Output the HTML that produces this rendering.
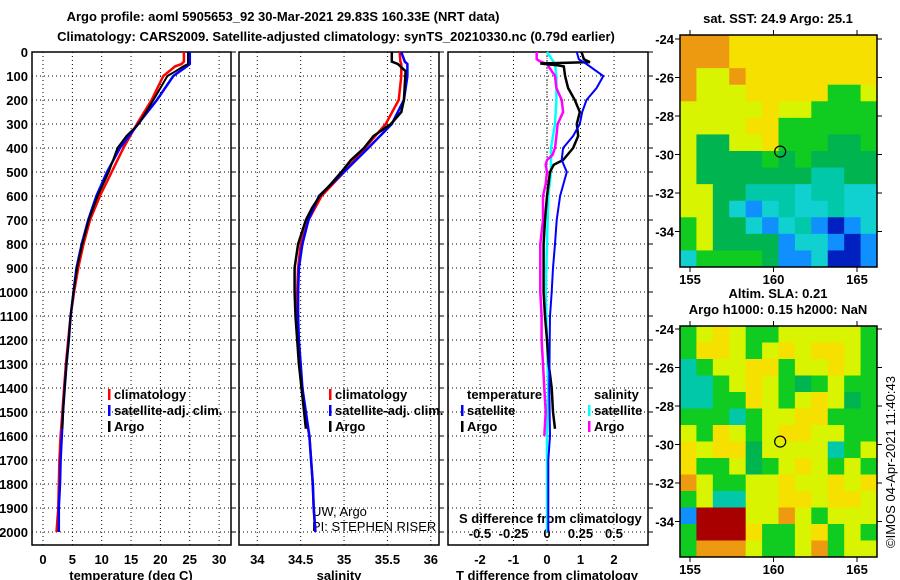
<!DOCTYPE html>
<html><head><meta charset="utf-8"><style>
html,body{margin:0;padding:0;background:#fff;width:900px;height:580px;overflow:hidden}
svg{display:block}
text{font-family:"Liberation Sans",sans-serif;font-weight:bold;font-size:13px;fill:#000}
.n{font-weight:normal}
</style></head><body>
<svg id="s" width="900" height="580" xmlns="http://www.w3.org/2000/svg"></svg>
<script>
// ---- data ----
const depthTicks=[0,100,200,300,400,500,600,700,800,900,1000,1100,1200,1300,1400,1500,1600,1700,1800,1900,2000];
const tempTicks=[0,5,10,15,20,25,30];
const salTicks=[34,34.5,35,35.5,36];
const salTickLabels=["34","34.5","35","35.5","36"];
const tDiffTicks=[-2,-1,0,1,2];
const sDiffTicks=[-0.5,-0.25,0,0.25,0.5];
const sDiffTickLabels=["-0.5","-0.25","0","0.25","0.5"];
const climDepths=[0,40,50,60,100,200,300,400,500,600,700,800,900,1000,1100,1200,1300,1400,1500,1600,1700,1800,1900,2000];
const tempClim=[24.0,24.0,23.6,22.5,20.5,18.5,16.0,13.7,11.7,9.7,8.0,6.9,6.0,5.3,4.7,4.3,3.9,3.6,3.3,3.0,2.8,2.7,2.6,2.3];
const tempSat=[25.0,25.0,25.0,24.5,22.2,19.4,16.2,13.1,10.9,9.1,7.7,6.6,5.7,5.2,4.7,4.4,4.0,3.7,3.4,3.2,3.0,2.9,2.7,2.7];
const argoTDepths=[0,40,50,60,80,100,200,300,350,400,500,600,700,800,900,1000,1100,1200,1300,1400,1500,1570];
const tempArgo=[24.7,24.7,24.7,23.9,22.6,21.2,18.8,16.3,14.2,12.7,11.2,9.3,7.8,6.7,5.8,5.2,4.7,4.4,4.0,3.7,3.4,3.3];
const salClim=[35.64,35.65,35.66,35.66,35.66,35.63,35.48,35.24,35.0,34.74,34.59,34.5,34.47,34.46,34.46,34.47,34.49,34.51,34.55,34.6,34.62,34.64,34.65,34.67];
const salSat=[35.66,35.7,35.73,35.73,35.73,35.69,35.55,35.28,35.0,34.71,34.59,34.52,34.48,34.47,34.47,34.48,34.5,34.52,34.56,34.6,34.62,34.64,34.65,34.67];
const argoSDepths=[0,40,50,80,200,250,300,350,400,450,500,550,600,650,700,800,900,1000,1100,1200,1300,1400,1500,1570];
const salArgo=[35.55,35.55,35.62,35.71,35.69,35.66,35.54,35.34,35.23,35.08,34.97,34.85,34.72,34.63,34.56,34.47,34.43,34.43,34.44,34.46,34.48,34.51,34.54,34.56];
const tArgoDiffDepths=[0,30,42,48,55,60,100,150,200,250,300,350,400,450,470,500,600,700,800,900,1000,1100,1200,1300,1400,1500,1570];
const tArgoDiff=[1.03,1.1,1.28,-0.2,0.3,0.5,0.54,0.63,0.83,0.98,0.89,0.93,0.78,0.48,0.2,0.09,0,-0.06,-0.1,-0.1,-0.1,-0.06,0.0,0.05,0.14,0.18,0.24];
const tSatDiffDepths=[0,30,50,100,150,200,250,300,350,400,450,500,600,700,800,900,1000,1100,1200,1400,1600,1700,2000];
const tSatDiff=[0.89,0.95,1.18,1.68,1.48,1.18,1.05,0.98,0.78,0.48,0.44,0.59,0.39,0.29,0.24,0.18,0.14,0.09,0.08,0.07,0.09,0.04,0.04];
const sArgoDiffDepths=[0,30,40,50,100,150,200,250,300,350,400,430,450,470,500,550,600,700,800,900,1000,1100,1200,1300,1400,1500,1600];
const sArgoDiff=[-0.077,-0.077,-0.05,0,0.06,0.07,0.11,0.12,0.08,0.07,0.06,0.04,0,-0.01,0,-0.01,-0.03,-0.03,-0.05,-0.05,-0.05,-0.04,-0.04,-0.03,-0.02,-0.01,-0.02];
const sSatDiffDepths=[0,50,100,200,300,400,500,600,800,1000,1200,1400,1600,2000];
const sSatDiff=[0,0.06,0.07,0.07,0.06,0.03,0.03,0.01,0.0,-0.01,0,0.01,0,0];
const latTicks=[-24,-26,-28,-30,-32,-34];
const lonTicks=[155,160,165];
const sstGrid=["OOOYYYYYYYYY","OOOYYYYYYYYY","OLLOYYYYYYYY","OLLLYYYYYGGL","LLLLLYLLGGGG","LLLLYYGGGGGG","LDDLLYGGGDDG","LDDDDGDGDDDD","LDDDDDDDTTDD","LLDDTTTCTTCC","LLDCBCTCCTCC","GLDDCBCTBNBC","GLDDDDBCCBNB","CGGGGDBBCNNB"];
const slaGrid=["GLYLGGLLLLLG","GYYLGLYLYYLG","TGLLYYGLLYLG","TTGLYLGDGLGG","TTGGYLGLYLDG","GGGTGLLYYGGG","LGYLGLYYLLGG","YLYYDLLLLTGL","YGGLDGLYLGLG","OLGGLLYLLYLY","GLTTLLYYLYYL","BRRRLLOLGLLL","GRRRYGGLYGLG","GOOOLGGLOGLL"];
const argoLon=160.4, argoLat=-29.85;

// ---- helpers ----
const S=document.getElementById('s');const NS='http://www.w3.org/2000/svg';
function el(t,a,p){const e=document.createElementNS(NS,t);for(const k in a)e.setAttribute(k,a[k]);(p||S).appendChild(e);return e;}
function tx(x,y,s,anchor,cls){const e=el('text',{x:x,y:y,'text-anchor':anchor||'start'});if(cls)e.setAttribute('class',cls);e.textContent=s;return e;}
const yD=d=>52+d*0.24;
const TOP=52,BOT=545;
const xT=v=>43+v*5.87;
const xS=v=>257.3+(v-34)*86.75;
const xTd=v=>547+v*33.5;
const xSd=v=>547+v*134;
const panels=[[32,231],[239,439],[448,648]];

let e;
e=tx(283,21,"Argo profile: aoml 5905653_92 30-Mar-2021 29.83S 160.33E (NRT data)","middle");
e.setAttribute('font-size','15');
e=tx(336,41,"Climatology: CARS2009. Satellite-adjusted climatology: synTS_20210330.nc (0.79d earlier)","middle");
e.setAttribute('font-size','15');

// grids and frames
panels.forEach((p,i)=>{
  const g=el('g',{});
  
  depthTicks.forEach(d=>{el('line',{x1:p[0],x2:p[1],y1:yD(d),y2:yD(d),stroke:'#000','stroke-dasharray':'1 3'},g);
    el('line',{x1:p[1],x2:p[1]+5,y1:yD(d),y2:yD(d),stroke:'#000'},g);});
  const xs=i==0?tempTicks.map(xT):i==1?salTicks.map(xS):tDiffTicks.map(xTd);
  xs.forEach(x=>el('line',{x1:x,x2:x,y1:TOP,y2:BOT,stroke:'#000','stroke-dasharray':'1 3'},g));
  const f=el('rect',{x:p[0],y:TOP,width:p[1]-p[0],height:BOT-TOP,fill:'none',stroke:'#000','stroke-width':1.5});
  
});
depthTicks.forEach(d=>{const t=tx(28,yD(d)+5,String(d),'end');});
tempTicks.forEach(v=>{const t=tx(xT(v),564,String(v),'middle');});
salTicks.forEach((v,i)=>{const t=tx(xS(v),564,salTickLabels[i],'middle');});
tDiffTicks.forEach(v=>{const t=tx(xTd(v),564,String(v),'middle');});
sDiffTicks.forEach((v,i)=>{const t=tx(xSd(v),538,sDiffTickLabels[i],'middle');});
e=tx(131,580,"temperature (deg C)","middle");
e=tx(339,580,"salinity","middle");
e=tx(547,580,"T difference from climatology","middle");
e=tx(459,523,"S difference from climatology");
e=tx(312,516,"UW, Argo","start","n");
e=tx(312,531,"PI: STEPHEN RISER","start","n");

function line(depths,vals,xf,col,name,w){
  const pts=depths.map((d,i)=>xf(vals[i]).toFixed(1)+','+yD(d).toFixed(1)).join(' ');
  const p=el('polyline',{points:pts,fill:'none',stroke:col,'stroke-width':w||2.5,'stroke-linejoin':'miter'});
  
}
line(climDepths,tempClim,xT,'#ff0000','temp-climatology-line');
line(climDepths,tempSat,xT,'#0000ff','temp-satellite-line');
line(argoTDepths,tempArgo,xT,'#000000','temp-argo-line',2);
line(climDepths,salClim,xS,'#ff0000','sal-climatology-line');
line(climDepths,salSat,xS,'#0000ff','sal-satellite-line');
line(argoSDepths,salArgo,xS,'#000000','sal-argo-line',2.5);
el('line',{x1:547,x2:547,y1:TOP,y2:200,stroke:'#000','stroke-dasharray':'1 2','stroke-width':0.7});
line(sSatDiffDepths,sSatDiff,xSd,'#00ffff','s-satellite-diff-line');
line(sArgoDiffDepths,sArgoDiff,xSd,'#ff00ff','s-argo-diff-line');
line(tArgoDiffDepths,tArgoDiff,xTd,'#000000','t-argo-diff-line');
line(tSatDiffDepths,tSatDiff,xTd,'#0000ff','t-satellite-diff-line',2);

function legend(x,y,col,label,name,tick){
  const g=el('g',{});
  if(col)el('rect',{x:x,y:y-9,width:2.5,height:11,fill:col},g);
  const t=el('text',{x:x+(tick===false?0:6),y:y+1},g);t.textContent=label;
}
[[108,113],[329,334]].forEach((p,i)=>{
  legend(p[0],398,'#ff0000','climatology','legend-climatology-'+(i+1));
  legend(p[0],414,'#0000ff','satellite-adj. clim.','legend-satellite-'+(i+1));
  legend(p[0],430,'#000000','Argo','legend-argo-'+(i+1));
});
legend(467,398,null,'temperature','legend-temperature-header',false);
legend(461,414,'#0000ff','satellite','legend-t-satellite');
legend(461,430,'#000000','Argo','legend-t-argo');
legend(594,398,null,'salinity','legend-salinity-header',false);
legend(588,414,'#00ffff','satellite','legend-s-satellite');
legend(588,430,'#ff00ff','Argo','legend-s-argo');

// maps
const pal={O:'#ee9a10',Y:'#f6e000',L:'#d8f400',G:'#10cc20',D:'#00b450',T:'#00c8a8',C:'#10d0d0',B:'#1090ff',N:'#0020c0',R:'#a80000'};
function map(y0,y1,lat24y,latStep,grid,title1,title2,name){
  const x0=680,x1=877;
  const g=el('g',{});
  const rows=grid.length,cols=grid[0].length,cw=(x1-x0)/cols,ch=(y1-y0)/rows;
  grid.forEach((r,i)=>{for(let j=0;j<cols;j++){el('rect',{x:x0+j*cw,y:y0+i*ch,width:cw+0.5,height:ch+0.5,fill:pal[r[j]]},g);}});
  const yLat=l=>lat24y+(-24-l)/2*latStep;
  const xLon=l=>690+(l-155)*16.7;
  el('rect',{x:x0,y:y0,width:x1-x0,height:y1-y0,fill:'none',stroke:'#000','stroke-width':1.5},g);
  latTicks.forEach(l=>{const y=yLat(l);el('line',{x1:x0-5,x2:x0,y1:y,y2:y,stroke:'#000'},g);el('line',{x1:x1,x2:x1+5,y1:y,y2:y,stroke:'#000'},g);
    const t=el('text',{x:674,y:y+5,'text-anchor':'end'},g);t.textContent=String(l);});
  lonTicks.forEach(l=>{const x=xLon(l);el('line',{x1:x,x2:x,y1:y0-5,y2:y0,stroke:'#000'},g);el('line',{x1:x,x2:x,y1:y1,y2:y1+5,stroke:'#000'},g);
    const t=el('text',{x:x,y:y1+17,'text-anchor':'middle'},g);t.textContent=String(l);});
  const c=el('circle',{cx:xLon(argoLon),cy:yLat(argoLat),r:5.5,fill:'none',stroke:'#000','stroke-width':1.2},g);
  
  if(title1){const t=el('text',{x:778,y:title2?y0-28:y0-12,'text-anchor':'middle'},g);t.textContent=title1;}
  if(title2){const t=el('text',{x:778,y:y0-12,'text-anchor':'middle'},g);t.textContent=title2;}
}
map(35,267,39,38.5,sstGrid,"sat. SST: 24.9 Argo: 25.1",null,'sst-map');
map(326,557,329,38.5,slaGrid,"Altim. SLA: 0.21","Argo h1000: 0.15 h2000: NaN",'sla-map');
e=el('text',{x:0,y:0,'text-anchor':'middle',transform:'translate(895,462) rotate(-90)',class:'n'});
e.textContent="©IMOS 04-Apr-2021 11:40:43";

</script>
</body></html>
